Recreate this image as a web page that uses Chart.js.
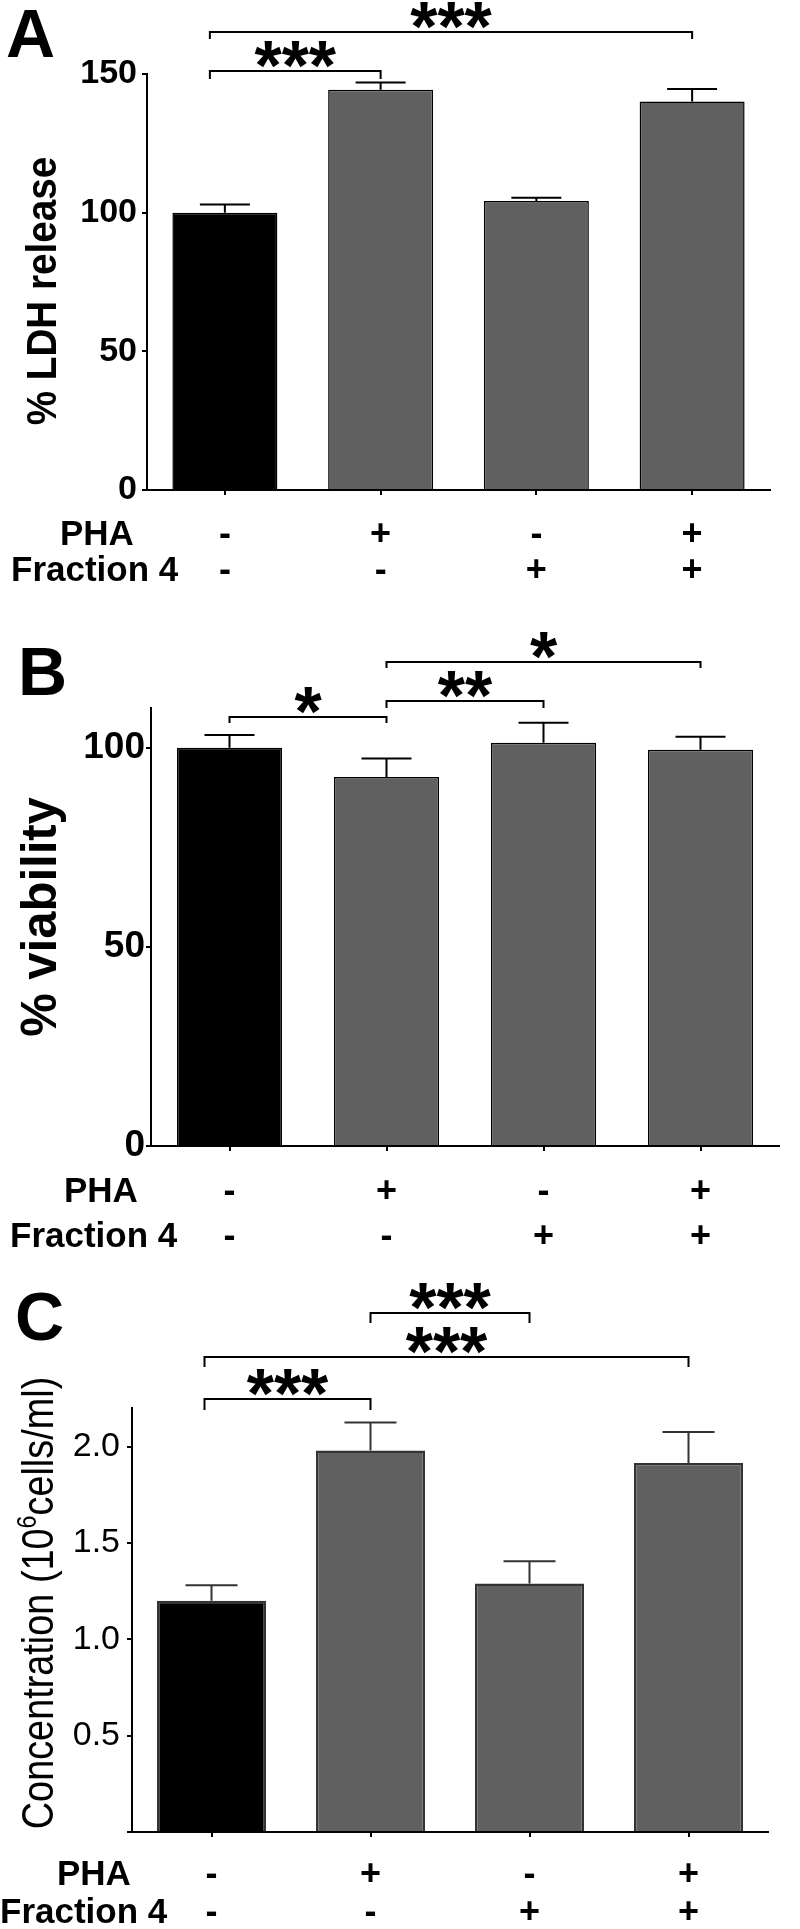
<!DOCTYPE html>
<html>
<head>
<meta charset="utf-8">
<script src="https://cdn.jsdelivr.net/npm/chart.js@4.4.1/dist/chart.umd.min.js"></script>
<style>
  html, body { margin: 0; padding: 0; background: #fff; }
  #wrap { position: relative; width: 800px; height: 1929px; }
  .panel { position: absolute; left: 0; width: 800px; }
  .panel canvas { display: block; }
</style>
</head>
<body>
<div id="wrap">
  <div class="panel" style="top:0"><canvas id="chartA" width="800" height="620"></canvas></div>
  <div class="panel" style="top:620px"><canvas id="chartB" width="800" height="630"></canvas></div>
  <div class="panel" style="top:1250px"><canvas id="chartC" width="800" height="679"></canvas></div>
</div>
<script>
// ----------------------
// Data
// ----------------------
const groups = ["Control", "PHA", "Fraction 4", "PHA + Fraction 4"];
const phaRow = ["-", "+", "-", "+"];
const fractionRow = ["-", "-", "+", "+"];
const rowNames = ["PHA", "Fraction 4"];

// A: % LDH release
const ldhMean = [100, 144.3, 104.2, 140.1];
const ldhSem = [2.9, 2.6, 1.2, 4.5];
const ldhTicks = [0, 50, 100, 150];
const ldhTickLabels = ["0", "50", "100", "150"];
const ldhSig = [[0, 1, "***"], [0, 3, "***"]];

// B: % viability
const viaMean = [100, 92.7, 101.3, 99.5];
const viaSem = [3.2, 4.6, 5.0, 3.3];
const viaTicks = [0, 50, 100];
const viaTickLabels = ["0", "50", "100"];
const viaSig = [[0, 1, "*"], [1, 2, "**"], [1, 3, "*"]];

// C: concentration (10^6 cells/ml)
const concMean = [1.20, 1.98, 1.29, 1.915];
const concSem = [0.08, 0.145, 0.115, 0.16];
const concTicks = [0, 0.5, 1.0, 1.5, 2.0];
const concTickLabels = ["", "0.5", "1.0", "1.5", "2.0"];
const concSig = [[1, 2, "***"], [0, 3, "***"], [0, 1, "***"]];

const barColors = ["#000000", "#606060", "#606060", "#606060"];
const FONT = "'Liberation Sans', Arial, Helvetica, sans-serif";

// ----------------------
// Drawing helpers
// ----------------------
function annotate(cfg) {
  return {
    id: "annot" + cfg.letter,
    afterDatasetsDraw(chart) {
      const ctx = chart.ctx;
      const xs = chart.scales.x, ys = chart.scales.y;
      ctx.save();

      // error bars (upper only)
      ctx.strokeStyle = cfg.lineColor;
      ctx.lineWidth = 2;
      cfg.mean.forEach((m, i) => {
        const cx = xs.getPixelForValue(i);
        const y0 = ys.getPixelForValue(m);
        const y1 = ys.getPixelForValue(m + cfg.sem[i]);
        ctx.beginPath();
        ctx.moveTo(cx, y0); ctx.lineTo(cx, y1);
        ctx.moveTo(cx - cfg.capHalf, y1); ctx.lineTo(cx + cfg.capHalf, y1);
        ctx.stroke();
      });

      // significance brackets
      ctx.strokeStyle = "#000";
      ctx.fillStyle = "#000";
      ctx.font = "bold " + cfg.starSize + "px " + FONT;
      ctx.textAlign = "center";
      ctx.textBaseline = "alphabetic";
      cfg.sig.forEach((s, k) => {
        const b = cfg.brackets[k];
        const xa = xs.getPixelForValue(s[0]) + (s[0] === 0 ? cfg.firstShift : 0);
        const xb = xs.getPixelForValue(s[1]);
        ctx.beginPath();
        ctx.moveTo(xa, b.y + b.d); ctx.lineTo(xa, b.y);
        ctx.lineTo(xb, b.y); ctx.lineTo(xb, b.y + b.d);
        ctx.stroke();
        const m = ctx.measureText(s[2]);
        ctx.fillText(s[2], (xa + xb) / 2, b.y - 3 - m.actualBoundingBoxDescent);
      });

      // panel letter
      ctx.textAlign = "left";
      ctx.font = "bold " + cfg.letterSize + "px " + FONT;
      ctx.fillText(cfg.letter, cfg.letterX, cfg.letterY);

      // treatment rows
      ctx.font = "bold 35px " + FONT;
      ctx.fillText(rowNames[0], cfg.rowX[0], cfg.rowY[0]);
      ctx.fillText(rowNames[1], cfg.rowX[1], cfg.rowY[1]);
      ctx.font = "bold 36px " + FONT;
      ctx.textAlign = "center";
      groups.forEach((g, i) => {
        const cx = xs.getPixelForValue(i);
        ctx.fillText(phaRow[i], cx, cfg.rowY[0]);
        ctx.fillText(fractionRow[i], cx, cfg.rowY[1]);
      });

      // y axis title (rotated, slightly condensed like the original)
      ctx.translate(cfg.titleX, cfg.titleY);
      ctx.rotate(-Math.PI / 2);
      ctx.scale(cfg.titleSqueeze, 1);
      ctx.font = cfg.titleFont;
      if (cfg.titleSup) {
        const parts = cfg.titleParts;
        const w0 = ctx.measureText(parts[0]).width;
        const w2 = ctx.measureText(parts[2]).width;
        ctx.font = cfg.supFont;
        const w1 = ctx.measureText(parts[1]).width;
        const x0 = -(w0 + w1 + w2) / 2;
        ctx.textAlign = "left";
        ctx.font = cfg.titleFont;
        ctx.fillText(parts[0], x0, 0);
        ctx.font = cfg.supFont;
        ctx.fillText(parts[1], x0 + w0, -cfg.supRaise);
        ctx.font = cfg.titleFont;
        ctx.fillText(parts[2], x0 + w0 + w1, 0);
      } else {
        ctx.textAlign = "center";
        ctx.fillText(cfg.title, 0, 0);
      }
      ctx.restore();
    }
  };
}

function makeChart(id, cfg) {
  const el = document.getElementById(id);
  return new Chart(el.getContext("2d"), {
    type: "bar",
    data: {
      labels: groups,
      datasets: [{
        data: cfg.mean,
        backgroundColor: barColors,
        borderColor: cfg.barBorder,
        borderWidth: cfg.barBorderWidth,
        barPercentage: cfg.barPct,
        categoryPercentage: 1
      }]
    },
    options: {
      responsive: false,
      animation: false,
      devicePixelRatio: 1,
      layout: { padding: { top: cfg.padTop, right: cfg.padRight, left: 0, bottom: 0 } },
      plugins: { legend: { display: false }, tooltip: { enabled: false } },
      scales: {
        x: {
          offset: true,
          ticks: { display: false },
          grid: { offset: false, drawOnChartArea: false, drawTicks: true, tickLength: 5, color: "#000", lineWidth: 2 },
          border: { display: true, color: "#000", width: 2 },
          afterFit(s) { s.height = cfg.xHeight; }
        },
        y: {
          min: 0,
          max: cfg.max,
          afterBuildTicks(s) { s.ticks = cfg.ticks.map(v => ({ value: v })); },
          ticks: {
            callback: (v, i) => cfg.tickLabels[i],
            color: "#000",
            padding: cfg.tickPad,
            font: { family: FONT, size: cfg.tickSize, weight: cfg.tickWeight }
          },
          grid: { drawOnChartArea: false, drawTicks: true, tickLength: 5, color: "#000", lineWidth: 2 },
          border: { display: true, color: "#000", width: 2 },
          afterFit(s) { s.width = cfg.yWidth; }
        }
      }
    },
    plugins: [annotate(cfg)]
  });
}

// ----------------------
// Panels
// ----------------------
makeChart("chartA", {
  letter: "A", letterX: 6, letterY: 57, letterSize: 68,
  mean: ldhMean, sem: ldhSem, ticks: ldhTicks, tickLabels: ldhTickLabels, sig: ldhSig,
  max: 150, padTop: 74, padRight: 30, yWidth: 147, xHeight: 130,
  tickSize: 34, tickWeight: "bold", tickPad: 5,
  barPct: 0.674, barBorder: "#000", barBorderWidth: 1.5, lineColor: "#000", capHalf: 25,
  brackets: [{ y: 71, d: 8 }, { y: 32, d: 7 }], firstShift: -15, starSize: 70,
  rowX: [60, 11], rowY: [545, 581],
  title: "% LDH release", titleFont: "bold 42px " + FONT, titleSqueeze: 0.92,
  titleX: 56, titleY: 291
});

makeChart("chartB", {
  letter: "B", letterX: 18, letterY: 75, letterSize: 68,
  mean: viaMean, sem: viaSem, ticks: viaTicks, tickLabels: viaTickLabels, sig: viaSig,
  max: 110, padTop: 88, padRight: 21, yWidth: 151, xHeight: 104,
  tickSize: 37, tickWeight: "bold", tickPad: 1,
  barPct: 0.669, barBorder: "#000", barBorderWidth: 1.5, lineColor: "#000", capHalf: 25,
  brackets: [{ y: 97, d: 6 }, { y: 81, d: 7 }, { y: 42, d: 6 }], firstShift: 0, starSize: 70,
  rowX: [64, 10], rowY: [582, 627],
  title: "% viability", titleFont: "bold 50px " + FONT, titleSqueeze: 0.98,
  titleX: 56, titleY: 297
});

makeChart("chartC", {
  letter: "C", letterX: 15, letterY: 90, letterSize: 68,
  mean: concMean, sem: concSem, ticks: concTicks, tickLabels: concTickLabels, sig: concSig,
  max: 2.2, padTop: 158, padRight: 32, yWidth: 132, xHeight: 97,
  tickSize: 34, tickWeight: "normal", tickPad: 7,
  barPct: 0.686, barBorder: "#333", barBorderWidth: 2.5, lineColor: "#333", capHalf: 26,
  brackets: [{ y: 63, d: 10 }, { y: 107, d: 10 }, { y: 149, d: 11 }], firstShift: -7, starSize: 70,
  rowX: [57, 0], rowY: [635, 673],
  titleSup: true, titleParts: ["Concentration (10", "6", "cells/ml)"],
  titleFont: "normal 44px " + FONT, supFont: "normal 27px " + FONT, supRaise: 17,
  titleSqueeze: 0.86, titleX: 53, titleY: 353
});
</script>
</body>
</html>
